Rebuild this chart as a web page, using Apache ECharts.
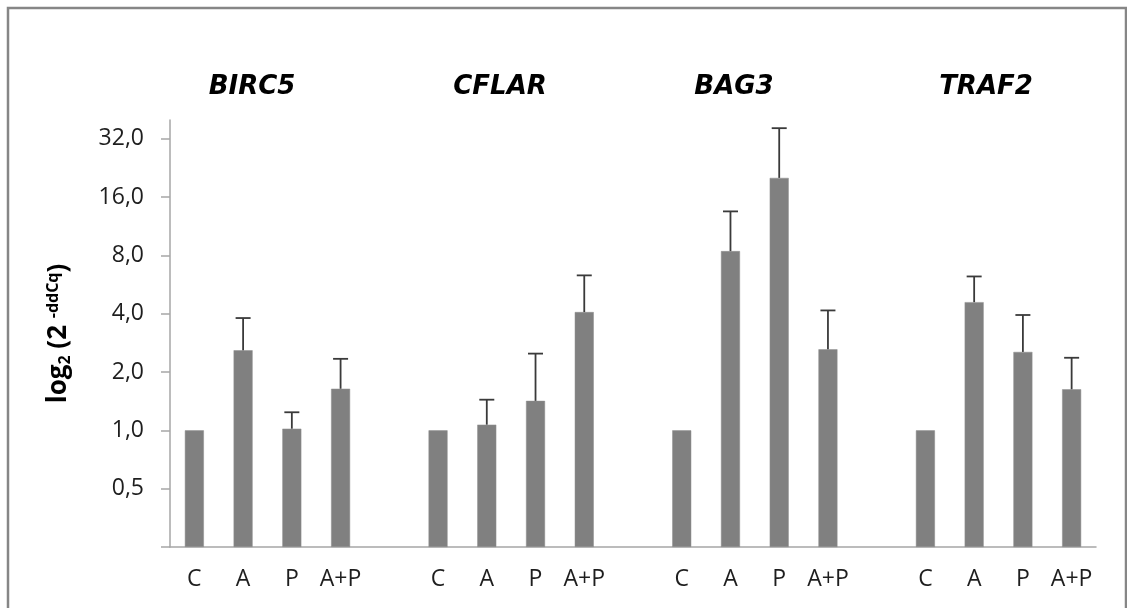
<!DOCTYPE html>
<html>
<head>
<meta charset="utf-8">
<script src="https://cdn.jsdelivr.net/npm/echarts@6/dist/echarts.min.js"></script>
<style>
  html, body { margin: 0; padding: 0; background: #ffffff; }
  #chart { width: 1127px; height: 608px; }
</style>
</head>
<body>
<div id="chart"></div>
<script>
// ---- data (fold change, linear scale; axis drawn as log2) ----
var genes = ['BIRC5', 'CFLAR', 'BAG3', 'TRAF2'];
var treatments = ['C', 'A', 'P', 'A+P'];

var meanBIRC5 = [1.0, 2.59, 1.02, 1.64];
var upperBIRC5 = [null, 3.80, 1.24, 2.34];

var meanCFLAR = [1.0, 1.07, 1.42, 4.08];
var upperCFLAR = [null, 1.44, 2.49, 6.31];

var meanBAG3 = [1.0, 8.42, 20.1, 2.62];
var upperBAG3 = [null, 13.5, 36.3, 4.16];

var meanTRAF2 = [1.0, 4.59, 2.54, 1.63];
var upperTRAF2 = [null, 6.23, 3.94, 2.37];

var yTickValues = [0.25, 0.5, 1, 2, 4, 8, 16, 32];
var yLabelValues = [0.5, 1, 2, 4, 8, 16, 32];
var yMinValue = 0.25;
var yMaxValue = 40;

// ---- build ----
// axis coordinate = log2(value / yMinValue), so bars grow from the axis floor
var lg = function (v) { return Math.log2(v / yMinValue); };
var fmt = function (t) {
  return (yMinValue * Math.pow(2, t)).toFixed(1).replace('.', ',');
};

var means = [meanBIRC5, meanCFLAR, meanBAG3, meanTRAF2];
var uppers = [upperBIRC5, upperCFLAR, upperBAG3, upperTRAF2];

var categories = [];
var barData = [];
var errData = [];
means.forEach(function (m, g) {
  if (g > 0) { categories.push(''); barData.push('-'); }
  treatments.forEach(function (t, i) {
    var idx = categories.length;
    categories.push(t);
    barData.push(lg(m[i]));
    if (uppers[g][i] != null) {
      errData.push([idx, lg(m[i]), lg(uppers[g][i])]);
    }
  });
});

var chart = echarts.init(document.getElementById('chart'));

var titleX = [252, 500, 734, 986];
var graphics = [{
  type: 'rect',
  shape: { x: 8, y: 8, width: 1118, height: 700 },
  style: { fill: 'none', stroke: '#868686', lineWidth: 2.5 },
  silent: true
}];
genes.forEach(function (g, i) {
  graphics.push({
    type: 'text',
    x: titleX[i],
    y: 87,
    style: {
      text: g,
      fontFamily: 'DejaVu Sans',
      fontWeight: 'bold',
      fontStyle: 'italic',
      fontSize: 26,
      fill: '#000000',
      align: 'center',
      verticalAlign: 'middle'
    }
  });
});

var option = {
  backgroundColor: '#ffffff',
  animation: false,
  grid: { left: 170, right: 31, top: 120, bottom: 61 },
  graphic: graphics,
  xAxis: {
    type: 'category',
    data: categories,
    axisLine: { onZero: false, lineStyle: { color: '#a6a6a6', width: 1.5 } },
    axisTick: { interval: 0, length: 8, lineStyle: { color: '#a6a6a6', width: 1.5 } },
    axisLabel: {
      interval: 0,
      margin: 21,
      fontFamily: 'Open Sans',
      fontSize: 23,
      color: '#1e1e1e'
    }
  },
  yAxis: {
    type: 'value',
    min: lg(yMinValue),
    max: lg(yMaxValue),
    interval: 1,
    name: '{b|log}{sub|2}{b| (2 }{sup|-ddCq}{b|)}',
    nameLocation: 'middle',
    nameRotate: 90,
    nameGap: 97,
    nameTextStyle: {
      rich: {
        b: { fontFamily: 'Open Sans', fontWeight: 'bold', fontSize: 26, color: '#000' },
        sub: { fontFamily: 'Open Sans', fontWeight: 'bold', fontSize: 16, color: '#000', verticalAlign: 'bottom', padding: [10, 0, 0, 0] },
        sup: { fontFamily: 'Open Sans', fontWeight: 'bold', fontSize: 16, color: '#000', verticalAlign: 'top', padding: [0, 0, 12, 0] }
      }
    },
    splitLine: { show: false },
    axisLine: { show: true, lineStyle: { color: '#a6a6a6', width: 1.5 } },
    axisTick: {
      show: true,
      length: 9,
      customValues: yTickValues.map(lg),
      lineStyle: { color: '#a6a6a6', width: 1.5 }
    },
    axisLabel: {
      customValues: yLabelValues.map(lg),
      margin: 26,
      fontFamily: 'Open Sans',
      fontSize: 23,
      color: '#1e1e1e',
      formatter: fmt
    }
  },
  series: [
    {
      type: 'bar',
      data: barData,
      barWidth: 19,
      itemStyle: { color: '#808080', borderColor: '#8e8e8e', borderWidth: 0.5 },
      z: 2
    },
    {
      type: 'custom',
      data: errData,
      z: 3,
      renderItem: function (params, api) {
        var x = api.value(0);
        var p1 = api.coord([x, api.value(1)]);
        var p2 = api.coord([x, api.value(2)]);
        var half = 7.5;
        var st = { stroke: '#3a3a3a', lineWidth: 1.8 };
        return {
          type: 'group',
          children: [
            { type: 'line', shape: { x1: p1[0], y1: p1[1], x2: p2[0], y2: p2[1] }, style: st },
            { type: 'line', shape: { x1: p2[0] - half, y1: p2[1], x2: p2[0] + half, y2: p2[1] }, style: st }
          ]
        };
      }
    }
  ]
};
chart.setOption(option);
</script>
</body>
</html>
